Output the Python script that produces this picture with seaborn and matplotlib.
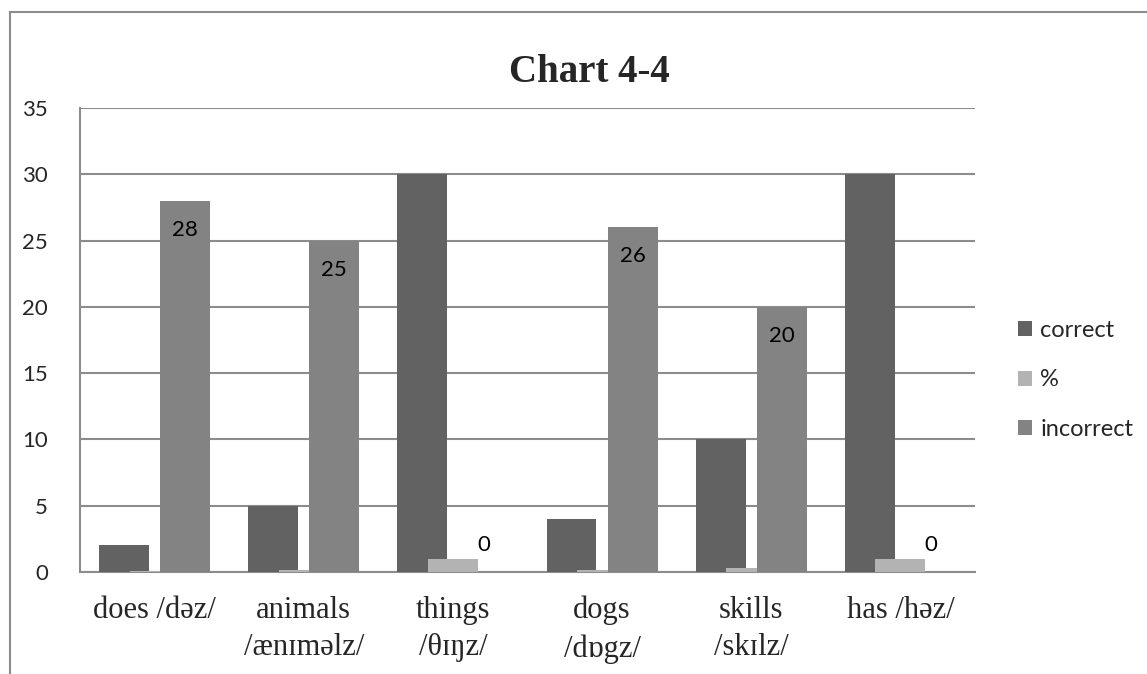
import pandas as pd
import seaborn as sns
import matplotlib.pyplot as plt
from matplotlib.patches import Rectangle

# Chart values
words = ['does /dəz/', 'animals\n/ænɪməlz/', 'things\n/θɪŋz/', 'dogs\n/dɒgz/', 'skills\n/skɪlz/', 'has /həz/']
correct = [2, 5, 30, 4, 10, 30]
percent = [0.07, 0.17, 1, 0.13, 0.33, 1]
incorrect = [28, 25, 0, 26, 20, 0]
series = ['correct', '%', 'incorrect']
colors = ['#626262', '#b3b3b3', '#838383']
y_ticks = [0, 5, 10, 15, 20, 25, 30, 35]

df = pd.DataFrame({
    'word': words * 3,
    'value': correct + percent + incorrect,
    'series': [s for s in series for _ in words],
})

sns.set_style('white')
plt.rcParams['font.family'] = ['Lato', 'DejaVu Sans']

W, H = 1147, 674
fig = plt.figure(figsize=(W / 100, H / 100), dpi=100)
ax = fig.add_axes([80 / W, (H - 572) / H, 895 / W, 464 / H])

sns.barplot(data=df, x='word', y='value', hue='series', hue_order=series,
            palette=colors, width=0.615, dodge=True, saturation=1, ax=ax, zorder=3)

# widen bars so neighbouring bars overlap like in the reference
for p in ax.patches:
    cx = p.get_x() + p.get_width() / 2
    p.set_width(0.335)
    p.set_x(cx - 0.335 / 2)
    p.set_edgecolor('none')

# data labels on the "incorrect" series
for p, v in zip(ax.containers[2], incorrect):
    cx = p.get_x() + p.get_width() / 2
    y = v - 2.2 if v > 0 else 2.0
    ax.text(cx, y, str(v), ha='center', va='center', fontsize=16, color='black', zorder=5)

ax.set_xlim(-0.5, 5.5)
ax.set_ylim(0, 35)
ax.set_yticks(y_ticks)
ax.yaxis.grid(True, color='#8c8c8c', linewidth=1.5, zorder=0)
ax.set_axisbelow(True)
ax.set_xlabel('')
ax.set_ylabel('')
ax.tick_params(axis='y', length=0, pad=23, labelsize=16)
ax.tick_params(axis='x', length=0, pad=17)
for lbl in ax.get_xticklabels():
    lbl.set_family(['Liberation Serif', 'DejaVu Serif'])
    lbl.set_fontsize(22)
    lbl.set_linespacing(1.4)

for side in ['top', 'right']:
    ax.spines[side].set_visible(False)
for side in ['left', 'bottom']:
    ax.spines[side].set_color('#8c8c8c')
    ax.spines[side].set_linewidth(1.5)

handles, labels = ax.get_legend_handles_labels()
ax.legend(handles, labels, loc='center left', bbox_to_anchor=(1006 / W, (H - 380) / H),
          bbox_transform=fig.transFigure, frameon=False, fontsize=17, borderpad=0,
          handlelength=0.6, handleheight=0.6, handletextpad=0.35, labelspacing=1.22)

fig.text(589 / W, 1 - 72 / H, 'Chart 4-4', ha='center', va='center', fontsize=28,
         fontweight='bold', family=['Liberation Serif', 'DejaVu Serif'])

fig.patches.append(Rectangle((9.5 / W, -0.1), 1.2, 1.1 - 12.5 / H, transform=fig.transFigure,
                             fill=False, edgecolor='#8c8c8c', linewidth=1.5))

fig.savefig('out.png', dpi=100)
